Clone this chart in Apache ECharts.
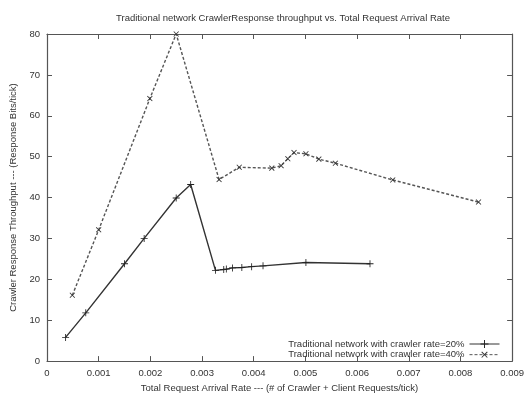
<!DOCTYPE html>
<html>
<head>
<meta charset="utf-8">
<script src="https://cdn.jsdelivr.net/npm/echarts@6/dist/echarts.min.js"></script>
<style>
  html, body { margin: 0; padding: 0; background: #fff; }
  #chart { width: 527px; height: 398px; }
</style>
</head>
<body>
<div id="chart"></div>
<script>
// Crawler response throughput against total request arrival rate
const rate20 = [0.00036, 0.00075, 0.0015, 0.00188, 0.0025, 0.00278, 0.00326, 0.00342, 0.00347, 0.00359, 0.00377, 0.00396, 0.00418, 0.00501, 0.00625];
const thr20  = [5.8, 11.8, 23.8, 30.0, 39.9, 43.2, 22.2, 22.4, 22.5, 22.8, 22.9, 23.1, 23.3, 24.1, 23.8];

const rate40 = [0.00049, 0.001, 0.00199, 0.0025, 0.00333, 0.00372, 0.00435, 0.00453, 0.00466, 0.00478, 0.00501, 0.00526, 0.00558, 0.00669, 0.00835];
const thr40  = [16.1, 32.1, 64.2, 80.0, 44.4, 47.4, 47.2, 47.8, 49.5, 51.0, 50.7, 49.4, 48.4, 44.3, 38.9];

const seriesNames = ['Traditional network with crawler rate=20%', 'Traditional network with crawler rate=40%'];
const titleText = 'Traditional network CrawlerResponse throughput vs. Total Request Arrival Rate';
const xName = 'Total Request Arrival Rate --- (# of Crawler + Client Requests/tick)';
const yName = 'Crawler Response Throughput --- (Response Bits/tick)';

const pairs = (xs, ys) => xs.map((x, i) => [x, ys[i]]);
const plusPath = 'path://M4.4,0H5.6V4.4H10V5.6H5.6V10H4.4V5.6H0V4.4H4.4Z';
const font = 'Liberation Sans, Arial, sans-serif';
const frame = '#555';

const baseX = { type: 'value', min: 0, max: 0.009, interval: 0.001 };
const baseY = { type: 'value', min: 0, max: 80, interval: 10 };
const tickIn = { show: true, inside: true, length: 5, lineStyle: { color: frame, width: 1 } };
const frameLine = { show: true, onZero: false, lineStyle: { color: frame, width: 1.2 } };

const chart = echarts.init(document.getElementById('chart'), null, { renderer: 'canvas' });
chart.setOption({
  animation: false,
  backgroundColor: '#fff',
  textStyle: { fontFamily: font },
  title: {
    text: titleText, left: 278, textAlign: 'center', top: 8,
    textStyle: { fontSize: 9.5, fontWeight: 'normal', color: '#333', fontFamily: font }
  },
  grid: { left: 46, right: 11, top: 34, bottom: 35, containLabel: false },
  legend: {
    orient: 'vertical', right: 22, top: 334, align: 'right',
    itemWidth: 30, itemHeight: 10, itemGap: 0,
    lineStyle: { width: 1 },
    textStyle: { fontSize: 9.5, color: '#333', fontFamily: font, padding: [0, 0, 0, 0] },
    data: seriesNames
  },
  xAxis: [
    Object.assign({}, baseX, {
      position: 'bottom',
      name: xName, nameLocation: 'middle', nameGap: 19,
      nameTextStyle: { fontSize: 9.5, color: '#333', fontFamily: font },
      axisLine: frameLine,
      axisTick: tickIn,
      axisLabel: { fontSize: 9.5, color: '#333', margin: 7,
        formatter: v => v === 0 ? '0' : v.toFixed(3) },
      splitLine: { show: false }
    }),
    Object.assign({}, baseX, {
      position: 'top',
      axisLine: frameLine,
      axisTick: tickIn, axisLabel: { show: false }, splitLine: { show: false }
    })
  ],
  yAxis: [
    Object.assign({}, baseY, {
      position: 'left',
      name: yName, nameLocation: 'middle', nameGap: 29,
      nameTextStyle: { fontSize: 9.5, color: '#333', fontFamily: font },
      axisLine: frameLine,
      axisTick: tickIn,
      axisLabel: { fontSize: 9.5, color: '#333', margin: 7 },
      splitLine: { show: false }
    }),
    Object.assign({}, baseY, {
      position: 'right',
      axisLine: frameLine,
      axisTick: tickIn, axisLabel: { show: false }, splitLine: { show: false }
    })
  ],
  series: [
    {
      name: seriesNames[0], type: 'line', xAxisIndex: 0, yAxisIndex: 0,
      data: pairs(rate20, thr20),
      symbol: plusPath, symbolSize: 7, showAllSymbol: true,
      lineStyle: { color: '#333', width: 1.4, type: 'solid' },
      itemStyle: { color: '#222' }
    },
    {
      name: seriesNames[1], type: 'line', xAxisIndex: 0, yAxisIndex: 0,
      data: pairs(rate40, thr40),
      symbol: plusPath, symbolRotate: 45, symbolSize: 7, showAllSymbol: true,
      lineStyle: { color: '#555', width: 1.4, type: [3, 2] },
      itemStyle: { color: '#333' }
    }
  ]
});
</script>
</body>
</html>
